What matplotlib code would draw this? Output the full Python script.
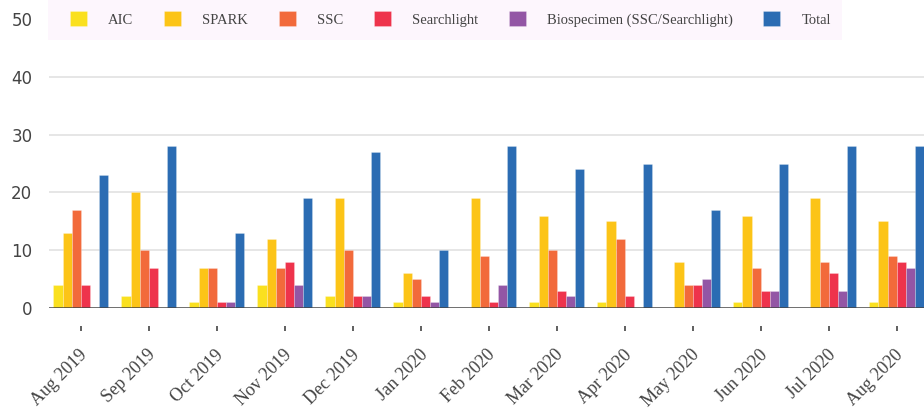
import numpy as np
import matplotlib
matplotlib.use("Agg")
import matplotlib.pyplot as plt
import matplotlib.transforms as mtransforms
from matplotlib.patches import Rectangle

months = ["Aug 2019", "Sep 2019", "Oct 2019", "Nov 2019", "Dec 2019", "Jan 2020",
          "Feb 2020", "Mar 2020", "Apr 2020", "May 2020", "Jun 2020", "Jul 2020", "Aug 2020"]
series_names = ["AIC", "SPARK", "SSC", "Searchlight", "Biospecimen (SSC/Searchlight)", "Total"]
aic = [4, 2, 1, 4, 2, 1, 0, 1, 1, 0, 1, 0, 1]
spark = [13, 20, 7, 12, 19, 6, 19, 16, 15, 8, 16, 19, 15]
ssc = [17, 10, 7, 7, 10, 5, 9, 10, 12, 4, 7, 8, 9]
searchlight = [4, 7, 1, 8, 2, 2, 1, 3, 2, 4, 3, 6, 8]
biospecimen = [0, 0, 1, 4, 2, 1, 4, 2, 0, 5, 3, 3, 7]
total = [23, 28, 13, 19, 27, 10, 28, 24, 25, 17, 25, 28, 28]
colors = ["#FAE01F", "#FCC417", "#F26A3B", "#EE334C", "#9356A5", "#2B6CB3"]

W, H = 924, 415
fig = plt.figure(figsize=(W / 100, H / 100), dpi=100)
ax = fig.add_axes([49 / W, (H - 308) / H, (W - 49) / W, (308 - 19) / H])

x = np.arange(len(months))
bw = 0.135
data = [aic, spark, ssc, searchlight, biospecimen, total]
for i, (vals, name, c) in enumerate(zip(data, series_names, colors)):
    ax.bar(x + (i - 2.5) * bw, vals, width=bw, color=c, label=name,
           edgecolor=(1, 1, 1, 0.4), linewidth=0.4, zorder=3)

ax.set_xlim(-0.47, 12.4)
ax.set_ylim(0, 50)
ax.set_yticks([0, 10, 20, 30, 40, 50])
for y in [10, 20, 30, 40]:
    ax.axhline(y, color="#e6e6e6", lw=1.4, zorder=1)
ax.axhline(0, color="#444444", lw=1.8, zorder=4)

for s in ["top", "right", "left"]:
    ax.spines[s].set_visible(False)
ax.spines["bottom"].set_position(("outward", 13))
ax.spines["bottom"].set_visible(False)

ax.tick_params(axis="y", length=0, pad=12, labelsize=12, labelcolor="#444444")
ax.tick_params(axis="x", length=3.6, width=1.2, color="#444444", pad=11)
ax.set_xticks(x)
ax.set_xticklabels(months, rotation=45, ha="right", va="top",
                   fontfamily="Liberation Serif", fontsize=13, color="#444444")
off = mtransforms.ScaledTranslation(10 / 100, 0, fig.dpi_scale_trans)
for lab in ax.get_xticklabels():
    lab.set_transform(lab.get_transform() + off)

# legend background
fig.patches.append(Rectangle((48 / W, (H - 40) / H), (842 - 48) / W, 40 / H,
                             transform=fig.transFigure, facecolor="#FDF6FD",
                             edgecolor="none", zorder=0))
leg = fig.legend(loc="center left", bbox_to_anchor=(70 / W, (H - 19) / H), ncol=6,
                 frameon=False, borderpad=0, borderaxespad=0,
                 handlelength=1.16, handleheight=1.16, handletextpad=1.44,
                 columnspacing=2.12, prop={"family": "Liberation Serif", "size": 10.5})
for t in leg.get_texts():
    t.set_color("#444444")

fig.savefig("out.png", dpi=100)
